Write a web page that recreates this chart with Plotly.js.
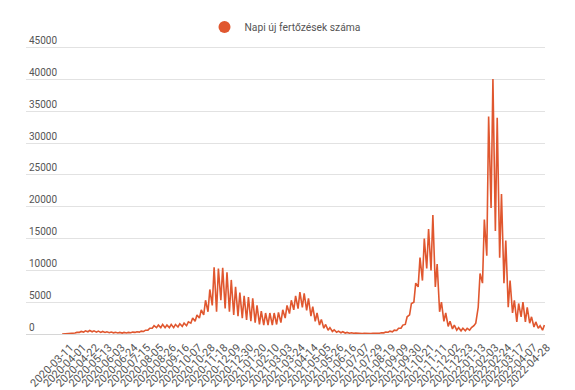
<!DOCTYPE html>
<html>
<head>
<meta charset="utf-8">
<script src="https://cdn.plot.ly/plotly-3.0.1.min.js"></script>
<style>
  html, body { margin: 0; padding: 0; background: #ffffff; }
  #chart { width: 575px; height: 390px; }
</style>
</head>
<body>
<div id="chart"></div>
<script>
// Series: two readings per week (weekly low, weekly high), from 2020-03-11
const seriesName = 'Napi új fertőzések száma';
const firstDay = '2020-03-11';
const weeklyLow = [
  5, 30, 90, 150, 250, 300, 350, 350, 300, 250,
  250, 200, 180, 170, 150, 170, 200, 250, 300, 400,
  600, 900, 1000, 1000, 1000, 1000, 1000, 1100, 1200, 1300,
  1700, 2000, 2500, 3000, 3500, 4500, 3500, 5300, 4000, 3500,
  3000, 2800, 2500, 2200, 2000, 1800, 1500, 1400, 1400, 1400,
  1500, 1800, 2500, 3200, 3800, 4000, 4200, 3700, 2800, 2000,
  1400, 900, 600, 400, 280, 200, 150, 120, 100, 80,
  70, 60, 70, 90, 120, 180, 280, 350, 550, 900,
  1500, 3000, 5000, 7400, 8400, 10300, 10000, 7400, 3500, 2000,
  1200, 800, 600, 500, 500, 600, 1300, 4200, 8000, 12300,
  19800, 16200, 12000, 8000, 4200, 3300, 1900, 2700, 1900, 1700,
  1100, 900, 600
];
const weeklyHigh = [
  15, 60, 150, 250, 400, 500, 550, 500, 450, 400,
  350, 300, 280, 250, 250, 250, 300, 350, 450, 600,
  900, 1300, 1400, 1500, 1400, 1500, 1500, 1600, 1700, 1900,
  2500, 3000, 3800, 5300, 7000, 10500, 10300, 10400, 9700, 8500,
  7400, 6500, 6000, 5800, 5600, 4500, 3600, 3300, 3300, 3300,
  3400, 3800, 4500, 5300, 6000, 6600, 6400, 5600, 4300, 3300,
  2300, 1500, 1000, 650, 450, 350, 250, 200, 150, 130,
  120, 110, 120, 150, 200, 300, 450, 600, 900, 1400,
  2700, 4800, 8000, 12000, 15000, 16500, 18700, 11000, 5000, 3300,
  2000, 1400, 1000, 900, 900, 1000, 1700, 9500, 18000, 34200,
  40100, 34000, 22000, 14700, 8400, 5300, 4800, 5000, 4200, 2700,
  1900, 1300, 1400
];
const tickLabels = [
  '2020-03-11','2020-04-01','2020-04-22','2020-05-13','2020-06-03','2020-06-24',
  '2020-07-15','2020-08-05','2020-08-26','2020-09-16','2020-10-07','2020-10-28',
  '2020-11-18','2020-12-09','2020-12-30','2021-01-20','2021-02-10','2021-03-03',
  '2021-03-24','2021-04-14','2021-05-05','2021-05-26','2021-06-16','2021-07-07',
  '2021-07-29','2021-08-19','2021-09-09','2021-09-30','2021-10-21','2021-11-11',
  '2021-12-02','2021-12-23','2022-01-13','2022-02-03','2022-02-24','2022-03-17',
  '2022-04-07','2022-04-28'
];
const yTicks = [0, 5000, 10000, 15000, 20000, 25000, 30000, 35000, 40000, 45000];

function addDays(iso, n) {
  const p = iso.split('-').map(Number);
  const d = new Date(Date.UTC(p[0], p[1] - 1, p[2] + n));
  return d.toISOString().slice(0, 10);
}

const xs = [], ys = [];
for (let i = 0; i < weeklyLow.length; i++) {
  xs.push(addDays(firstDay, 7 * i));     ys.push(weeklyLow[i]);
  xs.push(addDays(firstDay, 7 * i + 3)); ys.push(weeklyHigh[i]);
}

const lineColor = '#e0572f';
const textColor = '#555555';
const font = 'Roboto, Arial, sans-serif';

const traces = [
  {
    x: xs, y: ys, type: 'scatter', mode: 'lines',
    line: { color: lineColor, width: 1.6 },
    showlegend: false, hoverinfo: 'x+y'
  },
  {
    x: [null], y: [null], type: 'scatter', mode: 'markers',
    name: seriesName,
    marker: { color: lineColor, size: 12, symbol: 'circle' },
    showlegend: true
  }
];

const layout = {
  width: 575, height: 390,
  margin: { l: 26, r: 30, t: 33, b: 56 },
  paper_bgcolor: '#ffffff', plot_bgcolor: '#ffffff',
  font: { family: font, size: 10, color: textColor },
  showlegend: true,
  legend: {
    orientation: 'h', x: 0.5, xanchor: 'center', y: 1.027, yanchor: 'middle',
    font: { family: font, size: 10.3, color: textColor },
    itemwidth: 30
  },
  xaxis: {
    type: 'date',
    range: [addDays(firstDay, -59), addDays(firstDay, 788)],
    tickmode: 'array', tickvals: tickLabels, ticktext: tickLabels,
    tickangle: -45, ticks: '', showgrid: false, showline: false, zeroline: false,
    ticklabelshift: 8, ticklabelstandoff: 4,
    tickfont: { family: font, size: 11, color: textColor },
    fixedrange: true
  },
  yaxis: {
    range: [0, 47000],
    tickmode: 'array', tickvals: yTicks, ticktext: yTicks.map(String),
    ticklabelposition: 'inside top',
    showgrid: true, gridcolor: '#e2e2e2', gridwidth: 1,
    zeroline: true, zerolinecolor: '#d6d6d6', zerolinewidth: 1,
    showline: false, ticks: '',
    tickfont: { family: font, size: 10, color: textColor },
    fixedrange: true
  }
};

Plotly.newPlot('chart', traces, layout, { displayModeBar: false, staticPlot: true });
</script>
</body>
</html>
